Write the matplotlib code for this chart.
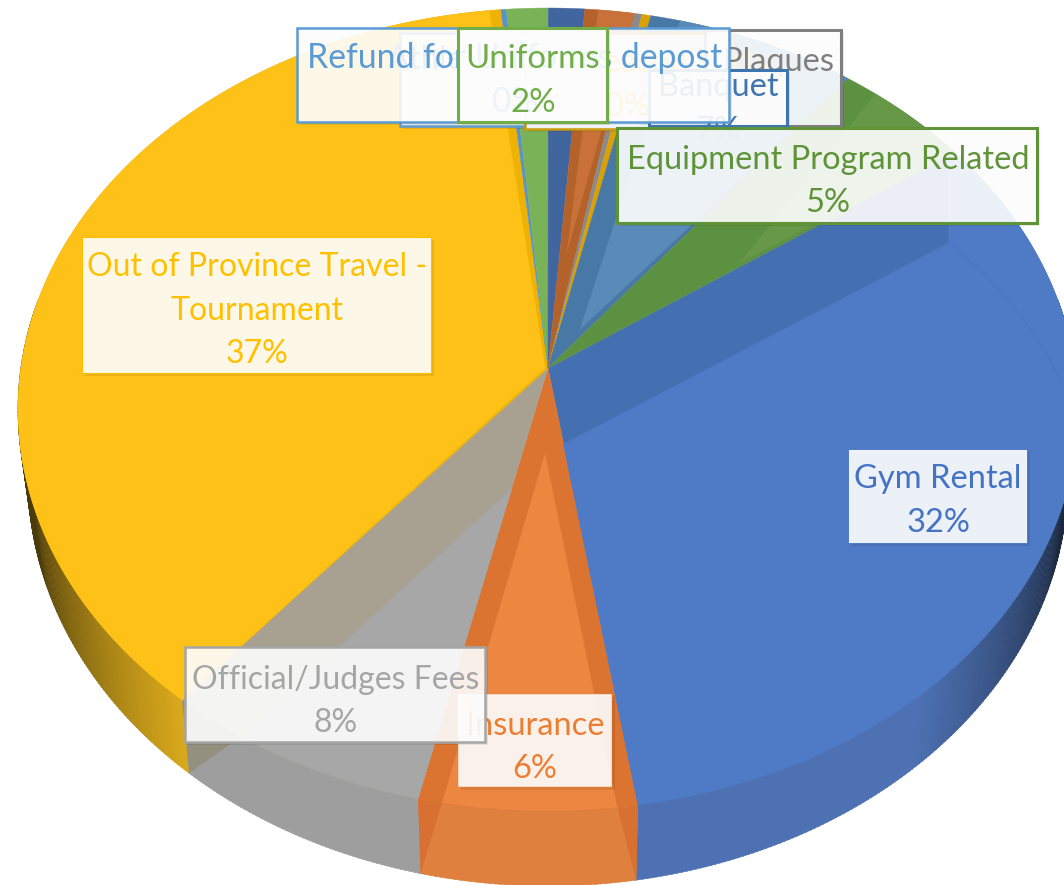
import numpy as np
import matplotlib
matplotlib.use("Agg")
import matplotlib.pyplot as plt
from matplotlib.collections import PolyCollection
from matplotlib.patches import Rectangle
import matplotlib.patheffects as pe

# ---- data (clockwise from the first slice) ----
categories = ["Gym Rental", "Insurance", "Official/Judges Fees",
              "Out of Province Travel -\nTournament", "Refund for Uniforms depost",
              "Uniforms", "Athlete Assistance", "", "Plaques",
              "End of Season Party", "Banquet", "Equipment Program Related"]
values = [32.28, 6.0, 7.47, 37.4, 0.18, 1.4, 1.22, 1.67, 0.25, 0.3, 7.1, 4.73]
pct_labels = ["32%", "6%", "8%", "37%", "0%", "2%", "0%", "", "", "0%", "7%", "5%"]

# ---- styles ----
first_angle = 55.0
top_cols = ["#4f7ac6", "#ed8640", "#a7a7a7", "#fdc118", "#5a93c8", "#7ab257",
            "#41659f", "#c8723a", "#8a8a8a", "#d9a106", "#5a8ab8", "#669848"]
band_cols = ["#4470b2", "#db7431", "#a8a090", "#eeb204", "#5a93c8", "#7ab257",
             "#41659f", "#b5622a", "#8a8a8a", "#d9a106", "#4878a5", "#5c9142"]
wall_cols = ["#4d71b3", "#e0803f", "#9e9e9e", "#d9a91c", "#5a93c8", "#7ab257",
             "#41659f", "#c8723a", "#8a8a8a", "#d9a106", "#5a8ab8", "#669848"]
wall_band = ["#4d71b3", "#d77030", "#94907f", "#d9a91c", "#5a93c8", "#7ab257",
             "#41659f", "#c8723a", "#8a8a8a", "#d9a106", "#5a8ab8", "#669848"]
text_cols = {"blue": "#4472c4", "orange": "#ed7d31", "gray": "#a5a5a5", "gold": "#ffc000",
             "sky": "#5b9bd5", "green": "#70ad47", "navy": "#3f75ae", "dgreen": "#5f9338",
             "dgray": "#7f7f7f", "dgold": "#c89a10"}

# ---- projection of the tilted pie, in pixel space ----
cx, apex_y = 548.0, 368.0
rx_top, top_y, bot_y = 530.0, 8.0, 811.0
H1, H2 = apex_y - top_y, bot_y - apex_y
c = (H2 - H1) / (H2 + H1)
b = H1 * (1 + c)
a = rx_top * np.sqrt(1 - c * c)
ecy, ery = (top_y + bot_y) / 2, (bot_y - top_y) / 2
bcy, bry, brx = 478.0, 408.0, 520.0


def project(r, deg):
    t = np.radians(deg)
    u, v = r * np.sin(t), r * np.cos(t)
    w = 1 + c * v
    return cx + a * u / w, apex_y - b * v / w


def rim(d0, d1, n=None):
    n = n or max(2, int(abs(d1 - d0) * 2) + 2)
    return project(1.0, np.linspace(d0, d1, n))


def to_bottom(x, y):
    return cx + (x - cx) * brx / rx_top, bcy + (y - ecy) * bry / ery


edges = first_angle + np.cumsum([0] + values) * 3.6
edges[-1] = first_angle + 360.0

fig = plt.figure(figsize=(10.64, 8.85), dpi=100)
ax = fig.add_axes([0, 0, 1, 1])
ax.set_xlim(0, 1064)
ax.set_ylim(885, 0)
ax.axis("off")


def shade(hexcol, f):
    return tuple(np.array(matplotlib.colors.to_rgb(hexcol)) * f)


# ---- side wall: strips shaded towards the far ends ----
polys, cols = [], []
for i, (d0, d1) in enumerate(zip(edges[:-1], edges[1:])):
    lo, hi = max(d0, 80), min(d1, 280)
    if hi <= lo:
        continue
    ds = np.append(np.arange(lo, hi, 0.5), hi)
    for p, q in zip(ds[:-1], ds[1:]):
        x, y = rim(p, q + 0.1, 2)
        xb, yb = to_bottom(x, y)
        polys.append(np.column_stack([np.r_[x, xb[::-1]], np.r_[y, yb[::-1]]]))
        m = abs(x.mean() - cx) / brx
        t = np.clip((0.99 - m) / 0.28, 0, 1)
        f = 0.35 + 0.65 * t ** 0.6
        cols.append(shade(wall_cols[i], f))
ax.add_collection(PolyCollection(polys, facecolors=cols, edgecolors=cols, linewidths=0.4,
                                 antialiased=True, zorder=1))


def wall_triangle(d_top_a, d_top_b, col):
    """darker bevel sliver on the side wall"""
    xt, yt = project(1.0, d_top_a)
    xu, yu = project(1.0, d_top_b)
    xb, yb = to_bottom(xt, yt)
    ax.fill([xt, xu, xb], [yt, yu, yb], color=col, lw=0, zorder=1.5)


wall_triangle(edges[1], edges[1] + 2.0, wall_band[1])
wall_triangle(edges[2], edges[2] - 2.4, wall_band[1])
wall_triangle(edges[3], edges[3] - 7.6, wall_band[2])

# ---- top face: band colour first, lighter inner face above it ----
for i, (d0, d1) in enumerate(zip(edges[:-1], edges[1:])):
    x, y = rim(d0, d1)
    ax.fill(np.r_[cx, x], np.r_[apex_y, y], color=band_cols[i], lw=0.3, zorder=2)


def inner(i, pts, rim_from, rim_to):
    px, py = project(np.array([p[0] for p in pts]), np.array([p[1] for p in pts]))
    x, y = rim(rim_from, rim_to)
    ax.fill(np.r_[px, x], np.r_[py, y], color=top_cols[i], lw=0, zorder=3)


inner(0, [(0.19, 171.5), (0.85, 67.5), (0.98, first_angle)], first_angle, edges[1])
inner(1, [(0.21, 181.5)], edges[1] + 2.0, edges[2] - 2.4)
inner(2, [(0.30, 192.7)], edges[2], edges[3] - 7.6)
inner(3, [(0.005, 270.0)], edges[3], edges[4] - 1.4)
inner(7, [(0.30, 7.0)], edges[7] - 360 + 1.6, edges[8] - 360)
inner(10, [(0.115, 32.0)], 16.0, 38.0)
inner(11, [(0.46, 54.0), (0.72, 46.0)], 42.0, first_angle)

# faint rim line on the top face of the largest slice
x, y = project(np.linspace(0.85, 0.97, 30), np.linspace(67.5, 92, 30))
ax.plot(x, y, color="#4a73bb", lw=0.7, alpha=0.6, zorder=3.5)

# ---- data labels ----
boxes = {
    6: (400, 33, 640, 126, "sky", "navy", 1.8, 69, 520, 23.5),
    9: (525, 33, 732, 129, "dgold", "gold", 1.8, 72, 628, 23.5),
    8: (705, 30, 841, 126, "dgray", "dgray", 2.2, 71, 778, 23.5),
    10: (649, 70, 787, 126, "navy", "navy", 2.2, 96, 718, 23.5),
    4: (297, 28, 729, 122, "sky", "sky", 1.8, 68, 515, 24.3),
    1: (458, 694, 612, 787, "orange", "orange", 0.3, 735, 535, 23.5),
    5: (458, 28, 607, 122, "green", "green", 2.2, 68, 533, 23.8),
    11: (617, 128, 1037, 223, "dgreen", "dgreen", 2.2, 169, 828, 23.5),
    0: (848, 449, 1027, 543, "blue", "blue", 0.6, 488, 938, 23.5),
    2: (185, 647, 485, 742, "gray", "gray", 1.8, 689, 336, 23.0),
    3: (82, 237, 431, 373, "gold", "gold", 0.8, 276, 257, 23.0),
}
font = ["Lato", "DejaVu Sans"]
z = 6.0
step = 43.5
for i, (x0, y0, x1, y1, edge, txt, lw, base, xc, fs) in boxes.items():
    rect = Rectangle((x0, y0), x1 - x0, y1 - y0, facecolor=(1, 1, 1, 0.9),
                     edgecolor=text_cols[edge], linewidth=lw, zorder=z,
                     path_effects=[pe.withSimplePatchShadow(offset=(2.5, -2.5), shadow_rgbFace="k",
                                                            alpha=0.08)])
    ax.add_patch(rect)
    lines = categories[i].split("\n") + [pct_labels[i]]
    for k, s in enumerate(lines):
        ax.text(xc, base + k * step, s, color=text_cols[txt], fontsize=fs, family=font,
                ha="center", va="baseline", zorder=z + 0.1)
    z += 0.2

fig.savefig("out.png", dpi=100)
